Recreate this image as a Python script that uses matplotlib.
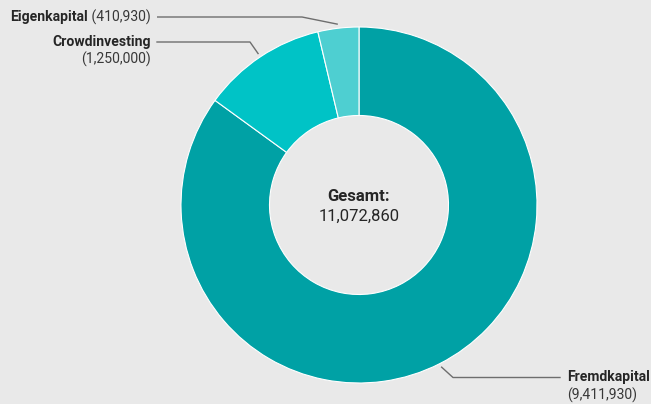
import numpy as np
import matplotlib
matplotlib.use("Agg")
import matplotlib.pyplot as plt

categories = ["Fremdkapital", "Crowdinvesting", "Eigenkapital"]
values = [9411930, 1250000, 410930]
value_labels = ["(9,411,930)", "(1,250,000)", "(410,930)"]
total_label = "11,072,860"
colors = ["#00a1a5", "#00c3c6", "#4ecfd1"]
bg = "#e9e9e9"

W, H = 651, 404
fig = plt.figure(figsize=(W / 100, H / 100), dpi=100, facecolor=bg)
ax = fig.add_axes([0, 0, 1, 1])
ax.set_facecolor(bg)
ax.set_xlim(0, W)
ax.set_ylim(H, 0)
ax.axis("off")

cx, cy, R = 359, 205, 178
ax2 = fig.add_axes([0, 0, 1, 1])
ax2.set_xlim(0, W)
ax2.set_ylim(0, H)
ax2.axis("off")
wedges, _ = ax2.pie(values, colors=colors, startangle=90, counterclock=False,
                    radius=R, center=(cx, H - cy), frame=True,
                    wedgeprops=dict(width=R - 89.5, edgecolor="white", linewidth=0.8))
ax2.set_xlim(0, W)
ax2.set_ylim(0, H)
ax2.set_aspect("auto")
ax2.axis("off")

plt.rcParams["font.family"] = ["Roboto", "DejaVu Sans"]
tc = "#262626"
vc = "#383838"
fs = 10.1
line_c = "#6e6e6e"

def mid_point(w, r):
    a = np.deg2rad((w.theta1 + w.theta2) / 2)
    return cx + r * np.cos(a), cy - r * np.sin(a)

fig.canvas.draw()
renderer = fig.canvas.get_renderer()

# Eigenkapital
w = wedges[2]
sx, sy = mid_point(w, 182)
ax.plot([sx, 302, 157], [sy, 17, 17], color=line_c, lw=1.0, solid_capstyle="butt")
t = ax.text(151, 17.5, " " + value_labels[2], ha="right", va="center", fontsize=fs, color=vc)
bb = t.get_window_extent(renderer)
ax.annotate(categories[2], xy=(bb.x0, bb.y0 + bb.height / 2), xycoords="figure pixels",
            ha="right", va="center", fontsize=fs, fontweight="bold", color=tc)

# Crowdinvesting
w = wedges[1]
sx, sy = mid_point(w, 182)
ax.plot([sx, 250, 157], [sy, 42, 42], color=line_c, lw=1.0)
ax.text(151, 42, categories[1], ha="right", va="center", fontsize=fs, fontweight="bold", color=tc)
ax.text(151, 59.5, value_labels[1], ha="right", va="center", fontsize=fs, color=vc)

# Fremdkapital
w = wedges[0]
sx, sy = mid_point(w, 182)
ax.plot([sx, 453, 560], [sy, 377.5, 377.5], color=line_c, lw=1.0)
ax.text(567, 377, categories[0], ha="left", va="center", fontsize=fs, fontweight="bold", color=tc)
ax.text(567, 395, value_labels[0], ha="left", va="center", fontsize=fs, color=vc)

# center
ax.text(cx, 196.5, "Gesamt:", ha="center", va="center", fontsize=12, fontweight="bold", color=tc)
ax.text(cx, 216.5, total_label, ha="center", va="center", fontsize=12, color=tc)

fig.savefig("out.png", dpi=100, facecolor=bg)
